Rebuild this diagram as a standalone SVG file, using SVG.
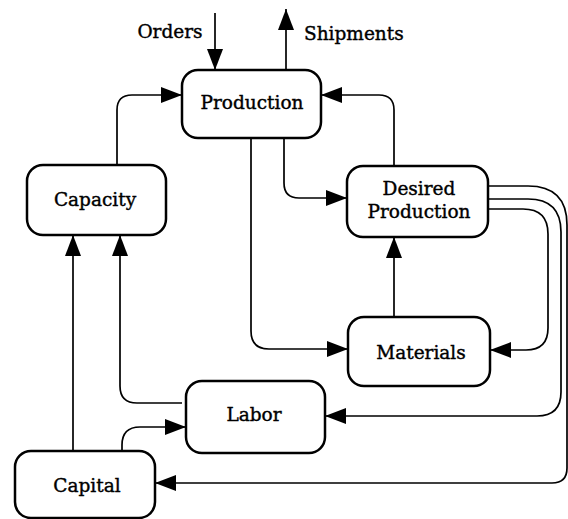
<svg xmlns="http://www.w3.org/2000/svg" width="568" height="519" viewBox="0 0 568 519">
<defs>
<marker id="ah" markerUnits="userSpaceOnUse" markerWidth="22" markerHeight="17" refX="21" refY="8.5" orient="auto">
<path d="M0,0.5 L21,8.5 L0,16.5 Z" fill="#000"/>
</marker>
<style>
.box{fill:#fff;stroke:#000;stroke-width:2.5}
.t{font-family:"DejaVu Serif","Liberation Serif",serif;font-size:18.5px;fill:#000;stroke:#000;stroke-width:0.4;text-anchor:middle}
.c{fill:none;stroke:#000;stroke-width:1.7;marker-end:url(#ah)}
</style>
</defs>
<rect width="568" height="519" fill="#fff"/>
<g id="connectors">
<path class="c" d="M215,13 V70"/>
<path class="c" d="M286,70 V9"/>
<path class="c" d="M117,165 V110 Q117,95 132,95 H182"/>
<path class="c" d="M394,166 V110 Q394,95 379,95 H321"/>
<path class="c" d="M284,138 V183 Q284,198 299,198 H347"/>
<path class="c" d="M251,138 V331 Q251,349 269,349 H348"/>
<path class="c" d="M394,317 V237"/>
<path class="c" d="M73,451 V235"/>
<path class="c" d="M182,403 H137 Q120,403 120,386 V235"/>
<path class="c" d="M122,451 V445 Q122,427 140,427 H186"/>
<path class="c" d="M488,209 H523 Q548,209 548,234 V328 Q548,350 526,350 H490"/>
<path class="c" d="M488,199 H528 Q561,199 561,232 V392 Q561,416 537,416 H325"/>
<path class="c" d="M488,186 H528 Q567,186 567,225 V468 Q567,483 552,483 H155"/>
</g>
<g id="orders-label"><text class="t" x="170" y="38">Orders</text></g>
<g id="shipments-label"><text class="t" x="304" y="40" style="text-anchor:start">Shipments</text></g>
<g id="production"><rect class="box" x="182" y="70" width="139" height="68" rx="16"/><text class="t" x="252" y="109">Production</text></g>
<g id="capacity"><rect class="box" x="27" y="165" width="139" height="70" rx="16"/><text class="t" x="95" y="206">Capacity</text></g>
<g id="desired-production"><rect class="box" x="347" y="166" width="141" height="71" rx="16"/><text class="t" x="419" y="195">Desired</text><text class="t" x="419" y="218">Production</text></g>
<g id="materials"><rect class="box" x="348" y="317" width="142" height="69" rx="16"/><text class="t" x="421" y="359">Materials</text></g>
<g id="labor"><rect class="box" x="186" y="381" width="139" height="72" rx="16"/><text class="t" x="254" y="421">Labor</text></g>
<g id="capital"><rect class="box" x="15" y="451" width="140" height="67" rx="16"/><text class="t" x="87" y="492">Capital</text></g>
</svg>
